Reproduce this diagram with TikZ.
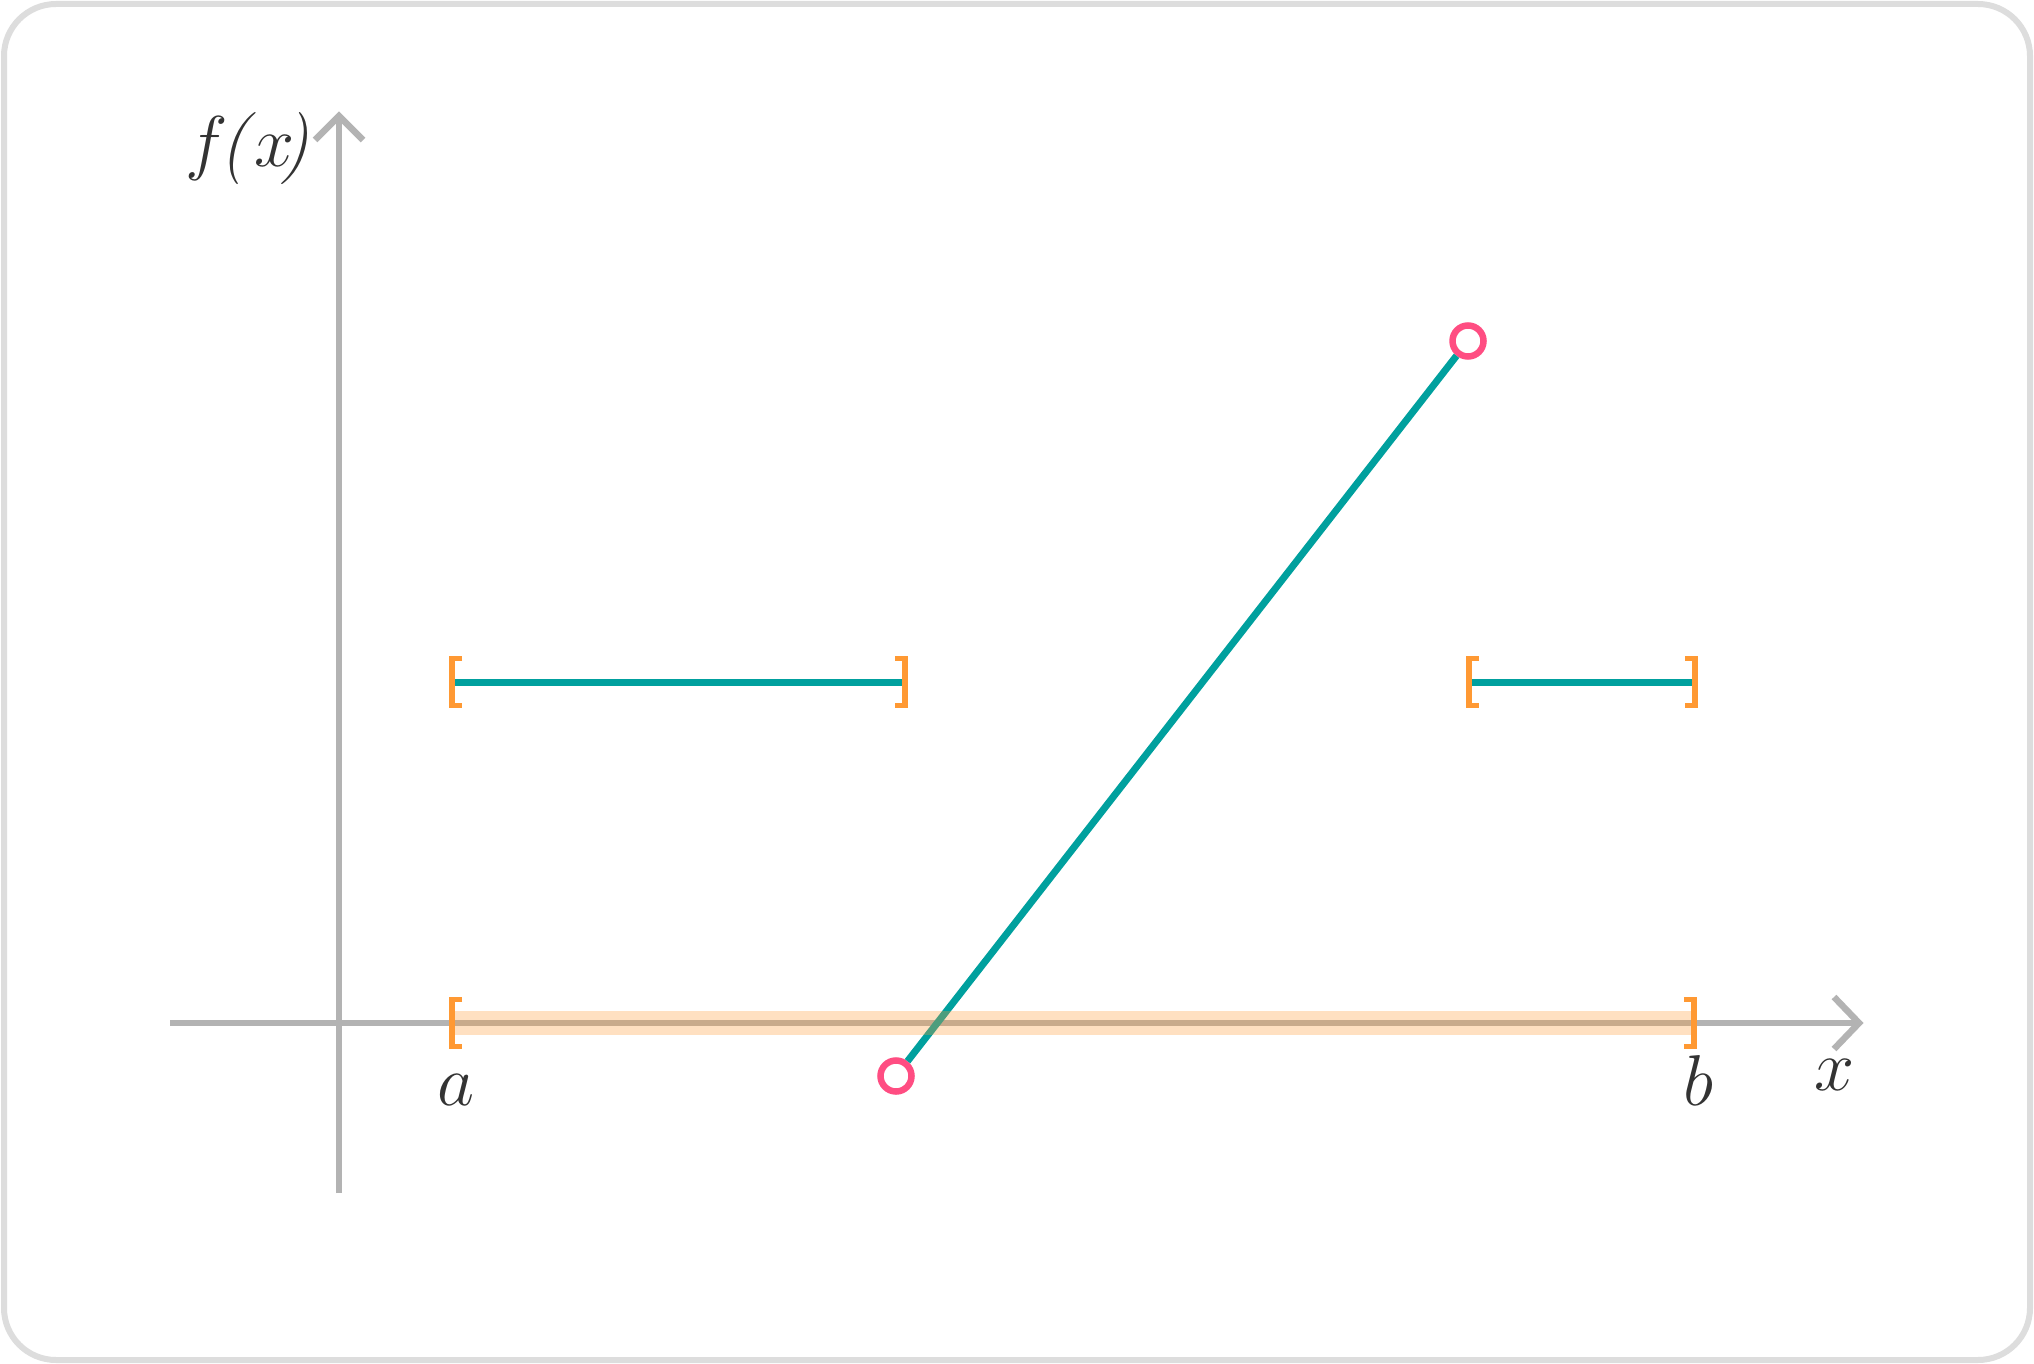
\RequirePackage{fix-cm}
\documentclass[tikz,border=0pt]{standalone}
\definecolor{framegray}{HTML}{DDDDDD}
\definecolor{axisgray}{HTML}{B3B3B3}
\definecolor{teal1}{HTML}{00A09E}
\definecolor{orange1}{HTML}{FF9933}
\definecolor{pink1}{HTML}{FF4D82}
\definecolor{textgray}{HTML}{333333}
\begin{document}
\begin{tikzpicture}[x=1pt,y=-1pt,
  axis/.style={draw=axisgray,line width=6.5pt},
  chev/.style={draw=axisgray,line width=6.5pt,miter limit=10},
  seg/.style={draw=teal1,line width=7pt},
  lbrack/.style={draw=orange1,line width=5.5pt},
  openpt/.style={circle,draw=pink1,fill=white,line width=6.5pt,minimum size=31pt,inner sep=0pt},
  lab/.style={text=textgray,anchor=base,inner sep=0pt,font=\fontsize{72}{80}\selectfont}]
\useasboundingbox (0,0) rectangle (2034,1364);
\draw[draw=framegray,line width=6pt,rounded corners=52pt,fill=white] (4,4) rectangle (2030,1360);
% axes
\coordinate (yb) at (339,1193);
\coordinate (yt) at (339,116);
\coordinate (xl) at (170,1023);
\coordinate (xr) at (1858,1023);
\draw[axis] (yb) -- (yt);
\draw[axis] (xl) -- (xr);
\draw[chev] (315,140) -- (339,116) -- (363,140);
\draw[chev] (1834,997) -- (1859,1023) -- (1834,1049);
% teal pieces
\coordinate (s1a) at (455,682);
\coordinate (s1b) at (902,682);
\coordinate (s2a) at (1472,682);
\coordinate (s2b) at (1692,682);
\draw[seg] (s1a) -- (s1b);
\draw[seg] (s2a) -- (s2b);
\node[openpt] (p1) at (896,1076) {};
\node[openpt] (p2) at (1468,341) {};
\draw[seg] (p1) -- (p2);
% orange band
\fill[orange1,opacity=0.3] (455,1011) rectangle (1692,1035);
% brackets
\newcommand{\lbr}[2]{\draw[lbrack] (#1+10,#2-23.5) -- (#1,#2-23.5) -- (#1,#2+23.5) -- (#1+10,#2+23.5);}
\newcommand{\rbr}[2]{\draw[lbrack] (#1-10,#2-23.5) -- (#1,#2-23.5) -- (#1,#2+23.5) -- (#1-10,#2+23.5);}
\lbr{452}{1023}
\rbr{1694}{1023}
\lbr{452}{682}
\rbr{905}{682}
\lbr{1469}{682}
\rbr{1695}{682}
% labels
\node[lab] (la) at (456,1105) {$a$};
\node[lab] (lb) at (1698,1105) {$b$};
\node[lab] (lx) at (1835,1090) {$x$};
\node[lab] (lf) at (247,167) {$f$\kern-8pt\textit{(}\kern-2pt$x$\kern-14pt\textit{)}};
\end{tikzpicture}
\end{document}
